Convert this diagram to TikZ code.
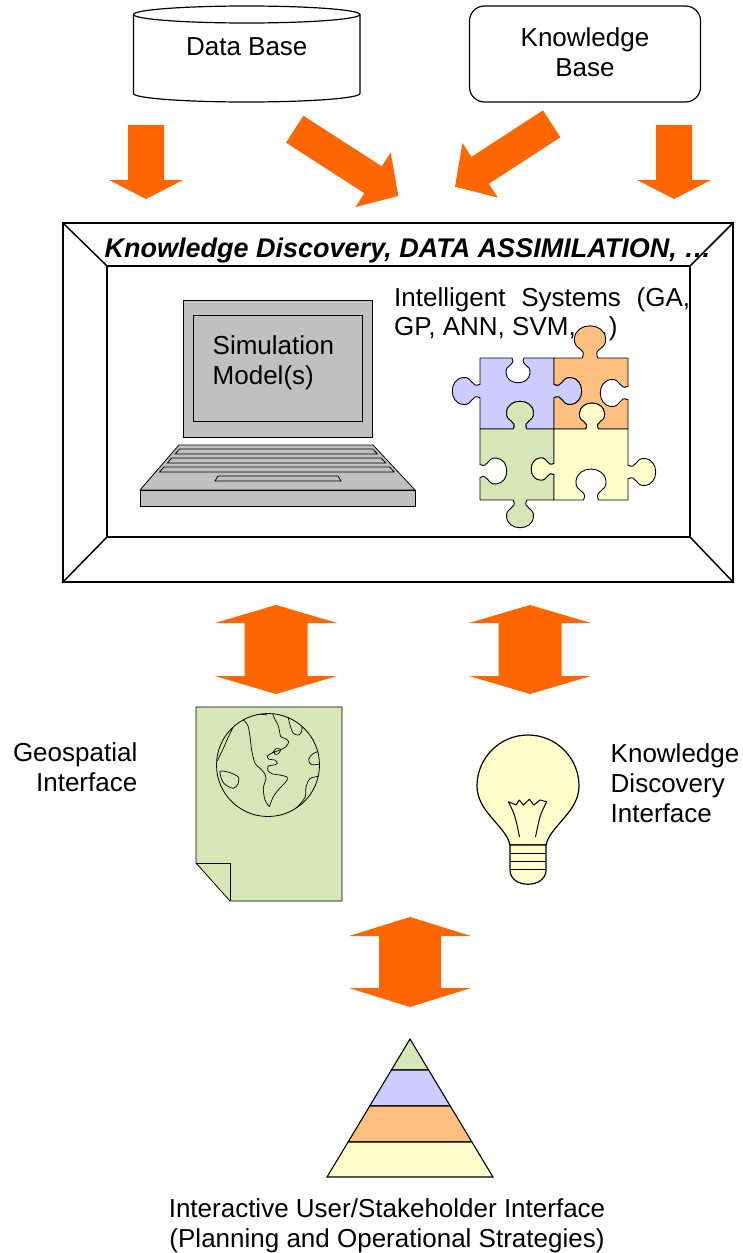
\documentclass[tikz,border=0pt]{standalone}
\usepackage{fontspec}
\setmainfont{Liberation Sans}
\usetikzlibrary{calc}

\definecolor{arroworange}{HTML}{FF6600}
\definecolor{pzblue}{HTML}{CCCCFF}
\definecolor{pzorange}{HTML}{FFBF80}
\definecolor{pzgreen}{HTML}{D7E6B6}
\definecolor{pzyellow}{HTML}{FFFFCC}
\definecolor{laptopgray}{HTML}{C0C0C0}

% block arrow from tail centre #1 to tip #2
\newcommand\blockarrow[5]{% tail, tip, shaft half-width, head half-width, head length
  \coordinate (hb) at ($(#2)!#5!(#1)$);
  \fill[arroworange] ($(#1)!#3!90:(#2)$) -- ($(hb)!#3!90:(#2)$) -- ($(hb)!#4!90:(#2)$) -- (#2)
    -- ($(hb)!#4!-90:(#2)$) -- ($(hb)!#3!-90:(#2)$) -- ($(#1)!#3!-90:(#2)$) -- cycle;}

% double-headed block arrow between tips #1 and #2
\newcommand\dblarrow[5]{% tip, tip, shaft half-width, head half-width, head length
  \coordinate (hba) at ($(#1)!#5!(#2)$);
  \coordinate (hbb) at ($(#2)!#5!(#1)$);
  \fill[arroworange] (#1) -- ($(hba)!#4!90:(#2)$) -- ($(hba)!#3!90:(#2)$)
    -- ($(hbb)!#3!-90:(#1)$) -- ($(hbb)!#4!-90:(#1)$) -- (#2)
    -- ($(hbb)!#4!90:(#1)$) -- ($(hbb)!#3!90:(#1)$)
    -- ($(hba)!#3!-90:(#2)$) -- ($(hba)!#4!-90:(#2)$) -- cycle;}

% jigsaw piece outlines, collected into \pzpath
\newcommand\pzbegin[2]{\xdef\pzpath{(#1,#2)}}
\newcommand\pzto[2]{\xdef\pzpath{\pzpath -- (#1,#2)}}
\newcommand\pzpt[3]{%
  \pgfmathsetmacro\pzx{\pzmx+(\pzk)*((#1)*(\pzex)-(#2)*(\pzey)*(\pzs))}%
  \pgfmathsetmacro\pzy{\pzmy+(\pzk)*((#1)*(\pzey)+(#2)*(\pzex)*(\pzs))}%
  \xdef\pzpath{\pzpath #3 (\pzx,\pzy)}}
\newcommand\pzknob[6]{% mid x, mid y, edge dir x, edge dir y, side, size
  \def\pzmx{#1}\def\pzmy{#2}\def\pzex{#3}\def\pzey{#4}\def\pzs{#5}\def\pzk{#6}%
  \pzpt{-6}{0}{--}\pzpt{-2}{8}{.. controls}\pzpt{-13}{6}{and}\pzpt{-12}{15}{..}%
  \pzpt{-11}{28}{.. controls}\pzpt{11}{28}{and}\pzpt{12}{15}{..}%
  \pzpt{13}{6}{.. controls}\pzpt{2}{8}{and}\pzpt{6}{0}{..}}

\begin{document}
\begin{tikzpicture}[x=1pt,y=-1pt,
  txt/.style={inner sep=0pt, anchor=base, font=\fontsize{26}{30}\selectfont},
  outline/.style={draw=black, line width=1.2pt},
  thin/.style={draw=black, line width=0.8pt},
  pzline/.style={draw=black, line width=0.9pt, line join=round},
  pyr/.style={draw=black, line width=1.1pt, line join=miter}]

\useasboundingbox (0,0) rectangle (743,1253);
\fill[white] (0,0) rectangle (743,1253);

% ---------- data base (cylinder) ----------
\draw[outline, fill=white] (133.5,14.5) -- (133.5,93.5)
  arc[start angle=180, end angle=360, x radius=113.25pt, y radius=8.5pt] -- (360,14.5);
\draw[outline] (246.75,14.5) ellipse[x radius=113.25pt, y radius=8.5pt];
\node[txt] (db) at (246.75,55.5) {Data Base};

% ---------- knowledge base ----------
\node[outline, rounded corners=15pt, minimum width=231pt, minimum height=96pt, inner sep=0pt]
  (kb) at (585,54) {};
\node[txt] (kb1) at (585,46.5) {Knowledge};
\node[txt] (kb2) at (585,76.5) {Base};

% ---------- arrows into the framework ----------
\coordinate (a1s) at (146,125);   \coordinate (a1e) at (146,199);
\coordinate (a2s) at (294.7,129.2); \coordinate (a2e) at (398.3,196);
\coordinate (a3s) at (551.7,123.8); \coordinate (a3e) at (455,186.7);
\coordinate (a4s) at (674,125);   \coordinate (a4e) at (674,199);
\blockarrow{a1s}{a1e}{18pt}{37pt}{19pt}
\blockarrow{a2s}{a2e}{16pt}{32.5pt}{30pt}
\blockarrow{a3s}{a3e}{16pt}{32.5pt}{30pt}
\blockarrow{a4s}{a4e}{18pt}{37pt}{19pt}

% ---------- framework (room in perspective) ----------
\node[draw=black, line width=1.5pt, minimum width=670pt, minimum height=359pt, inner sep=0pt]
  (outer) at (398,402.5) {};
\node[draw=black, line width=1.5pt, minimum width=583pt, minimum height=271pt, inner sep=0pt]
  (inner) at (398.5,401.5) {};
\draw[line width=1.5pt] (outer.north west) -- (inner.north west);
\draw[line width=1.5pt] (outer.north east) -- (inner.north east);
\draw[line width=1.5pt] (outer.south west) -- (inner.south west);
\draw[line width=1.5pt] (outer.south east) -- (inner.south east);
\node[txt, font=\bfseries\itshape\fontsize{27}{30}\selectfont] (head) at (408,257.5)
  {Knowledge Discovery, DATA ASSIMILATION, …};

% ---------- laptop ----------
\draw[thin, fill=laptopgray] (183.5,300) rectangle (372.5,437.5);
\draw[thin, fill=laptopgray] (193,315) rectangle (362.5,421.5);
\draw[thin, fill=laptopgray] (179,445) -- (373,445) -- (415,490) -- (140,490) -- cycle;
\draw[thin, fill=laptopgray] (140,490) rectangle (415,506.5);
\draw[thin, fill=laptopgray] (179.5,449) -- (372.7,449) -- (377.4,454) -- (175.2,454) -- cycle;
\draw[thin, fill=laptopgray] (171.7,458) -- (381.1,458) -- (385.8,463) -- (167.4,463) -- cycle;
\draw[thin, fill=laptopgray] (163.9,467) -- (389.5,467) -- (394.2,472) -- (159.6,472) -- cycle;
\draw[thin, fill=laptopgray] (218,476) -- (338,476) -- (341,481) -- (215,481) -- cycle;
\node[txt, anchor=base west] (sim1) at (212.5,354) {Simulation};
\node[txt, anchor=base west] (sim2) at (212.5,384) {Model(s)};

% ---------- intelligent systems ----------
\node[txt, anchor=base west] (is1) at (394,306) {\makebox[296pt][s]{Intelligent Systems (GA,}};
\node[txt, anchor=base west] (is2) at (394,335) {GP, ANN, SVM, …)};

% ---------- puzzle ----------
\pzbegin{480}{358}
\pzknob{518}{358}{1}{0}{1}{1.0}
\pzto{554}{358}
\pzknob{554}{391}{0}{1}{-1}{1.12}
\pzto{554}{429}
\pzknob{520}{429}{-1}{0}{1}{1.12}
\pzto{480}{429}
\pzknob{480}{391}{0}{-1}{-1}{1.12}
\draw[pzline, fill=pzblue] \pzpath -- cycle;

\pzbegin{554}{358}
\pzknob{590}{358}{1}{0}{-1}{1.3}
\pzto{628}{358}
\pzknob{628}{393}{0}{1}{1}{1.12}
\pzto{628}{429}
\pzknob{592}{429}{-1}{0}{1}{1.05}
\pzto{554}{429}
\pzknob{554}{391}{0}{-1}{1}{1.12}
\draw[pzline, fill=pzorange] \pzpath -- cycle;

\pzbegin{480}{429}
\pzknob{520}{429}{1}{0}{-1}{1.12}
\pzto{554}{429}
\pzknob{554}{469}{0}{1}{1}{0.92}
\pzto{554}{500}
\pzknob{520}{500}{-1}{0}{-1}{1.12}
\pzto{480}{500}
\pzknob{480}{471}{0}{-1}{1}{1.08}
\draw[pzline, fill=pzgreen] \pzpath -- cycle;

\pzbegin{554}{429}
\pzknob{592}{429}{1}{0}{-1}{1.05}
\pzto{628}{429}
\pzknob{628}{472}{0}{1}{-1}{1.12}
\pzto{628}{500}
\pzknob{591}{500}{-1}{0}{1}{1.25}
\pzto{554}{500}
\pzknob{554}{469}{0}{-1}{-1}{0.92}
\draw[pzline, fill=pzyellow] \pzpath -- cycle;

% ---------- arrows between framework and interfaces ----------
\coordinate (d1a) at (276,605);  \coordinate (d1b) at (276,694);
\coordinate (d2a) at (530,605);  \coordinate (d2b) at (530,694);
\coordinate (d3a) at (410,917);  \coordinate (d3b) at (410,1007);
\dblarrow{d1a}{d1b}{31.5pt}{61pt}{18pt}
\dblarrow{d2a}{d2b}{31.5pt}{61pt}{18pt}
\dblarrow{d3a}{d3b}{31pt}{61pt}{19pt}

% ---------- geospatial interface (map sheet with globe) ----------
\draw[thin, fill=pzgreen] (196,707) -- (342,707) -- (342,901) -- (230,901) -- (196,863) -- cycle;
\draw[thin] (196,863) -- (230,863) -- (230,901);
\draw[thin] (268,765) circle[radius=51.5pt];
\begin{scope}
  \clip (268,765) circle[radius=51.5pt];
  \begin{scope}[shift={(180,700)}, scale=1/3, line width=0.7pt]
    \draw plot[smooth] coordinates {(185,55) (203,75) (210,110) (215,150) (225,190) (240,205)
      (252,218) (258,235) (250,265) (255,300) (268,320)};
    \draw plot[smooth] coordinates {(268,320) (280,290) (298,266) (318,245) (322,232) (300,225)
      (278,222) (264,212) (265,198) (282,195) (292,190) (285,180) (268,178) (262,168)
      (278,158) (300,150) (318,140) (326,125) (315,115) (302,110) (298,90) (292,70) (283,55) (275,30)};
    \draw plot[smooth] coordinates {(322,40) (330,75) (340,100) (355,105) (365,95) (365,65) (358,40)};
    \draw plot[smooth cycle] coordinates {(120,215) (140,215) (160,222) (176,232) (174,252)
      (160,265) (142,258) (128,245)};
    \draw plot[smooth] coordinates {(158,85) (143,115) (130,145) (112,182)};
    \draw plot[smooth] coordinates {(420,152) (398,162) (386,178) (394,194) (420,192)};
    \draw plot[smooth] coordinates {(420,228) (390,236) (378,262) (376,290) (362,310) (347,325)};
    \draw plot[smooth] coordinates {(278,158) (288,146) (302,148) (296,160) (285,163) (282,152)};
    \draw plot[smooth] coordinates {(200,48) (230,42) (262,45)};
  \end{scope}
\end{scope}
\node[txt, anchor=base east] (geo1) at (137.5,761) {Geospatial};
\node[txt, anchor=base east] (geo2) at (137.5,791) {Interface};

% ---------- knowledge discovery interface (light bulb) ----------
\draw[outline, fill=pzyellow] (510,845) .. controls (506,826) and (477,812) .. (477,786)
  arc[start angle=180, end angle=0, radius=51pt]
  .. controls (579,812) and (550,826) .. (546,845) -- cycle;
\draw[outline, fill=pzyellow] (510,845) -- (510,870) .. controls (510,889) and (546,889) .. (546,870)
  -- (546,845) -- cycle;
\draw[outline] (510,853.5) -- (546,853.5);
\draw[outline] (510,861.5) -- (546,861.5);
\draw[outline] (510,869.5) -- (546,869.5);
\draw[line width=1pt, line join=round] (508.3,801.7) -- (516,805) -- (519.3,800) -- (523.3,805)
  -- (529.3,799.3) -- (534,805) -- (540,800) -- (546.7,801.7);
\draw[line width=1pt] (508.3,801.7) .. controls (515,815) .. (519.5,837);
\draw[line width=1pt] (546.7,801.7) .. controls (540,815) .. (535.5,837);
\node[txt, anchor=base west] (kd1) at (610.5,762) {Knowledge};
\node[txt, anchor=base west] (kd2) at (610.5,792) {Discovery};
\node[txt, anchor=base west] (kd3) at (610.5,822) {Interface};

% ---------- user / stakeholder pyramid ----------
\draw[pyr, fill=pzgreen] (410,1039) -- (428.6,1070) -- (391.4,1070) -- cycle;
\draw[pyr, fill=pzblue] (391.4,1070) -- (428.6,1070) -- (450.3,1106) -- (369.7,1106) -- cycle;
\draw[pyr, fill=pzorange] (369.7,1106) -- (450.3,1106) -- (471.9,1142) -- (348.1,1142) -- cycle;
\draw[pyr, fill=pzyellow] (348.1,1142) -- (471.9,1142) -- (493,1177) -- (327,1177) -- cycle;
\node[txt] (ui1) at (387,1217) {Interactive User/Stakeholder Interface};
\node[txt] (ui2) at (387,1247) {(Planning and Operational Strategies)};

\end{tikzpicture}
\end{document}
